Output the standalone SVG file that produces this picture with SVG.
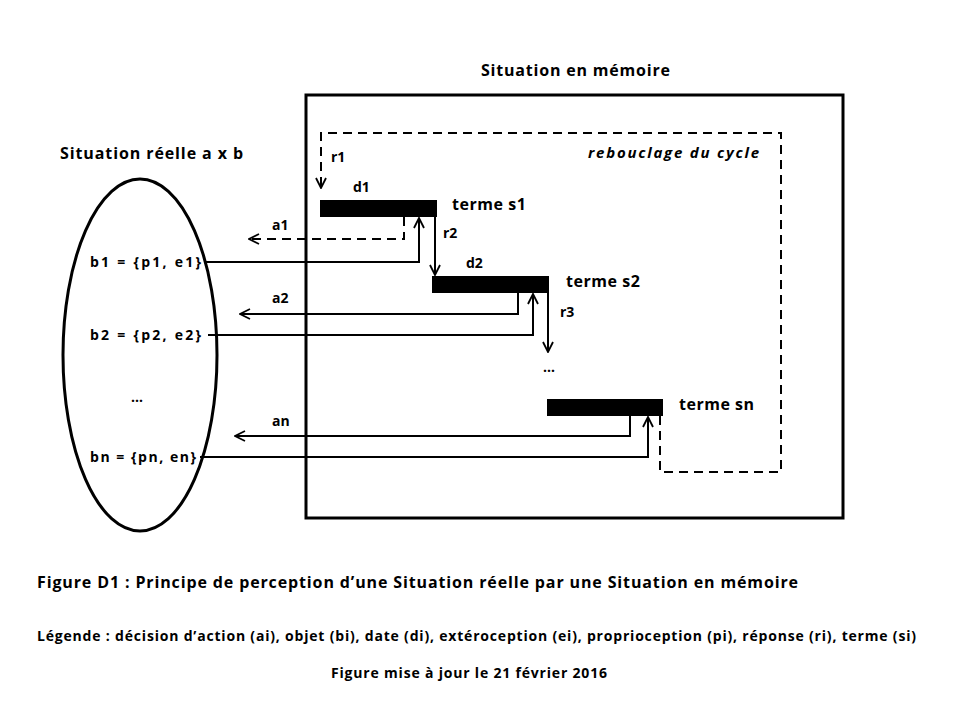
<svg xmlns="http://www.w3.org/2000/svg" width="960" height="720" viewBox="0 0 960 720">
<style>
text{font-family:"Open Sans","Liberation Sans",sans-serif;font-weight:bold;fill:#000}
.s{font-size:14px}.m{font-size:15px}.l{font-size:16px}
.ln{fill:none;stroke:#000;stroke-width:2}
.d{stroke-dasharray:9 6}
.bar{fill:#000}
</style>
<defs><marker id="a" viewBox="0 0 12 12" refX="11" refY="6" markerWidth="12" markerHeight="12" markerUnits="userSpaceOnUse" orient="auto"><path d="M1,1 L11,6 L1,11" fill="none" stroke="#000" stroke-width="1.8"/></marker></defs>
<rect width="960" height="720" fill="#fff"/>
<g id="frame"><rect x="306" y="95" width="537" height="423" fill="none" stroke="#000" stroke-width="3"/><text x="481" y="76" class="l" textLength="189" lengthAdjust="spacing">Situation en mémoire</text></g>
<g id="reel"><ellipse cx="140" cy="355" rx="77" ry="176" fill="none" stroke="#000" stroke-width="3"/><text x="60" y="159" class="l" textLength="183" lengthAdjust="spacing">Situation réelle  a x b</text>
<text x="90" y="267" class="s" textLength="111" lengthAdjust="spacing">b1 = {p1, e1}</text><text x="90" y="340" class="s" textLength="111" lengthAdjust="spacing">b2 = {p2, e2}</text><text x="137" y="402" class="s" text-anchor="middle">…</text><text x="90" y="462" class="s" textLength="106" lengthAdjust="spacing">bn = {pn, en}</text></g>
<g id="s1"><rect class="bar" x="320" y="200" width="117" height="17"/><text x="353" y="192" class="s">d1</text><text x="452" y="210" class="l" textLength="74" lengthAdjust="spacing">terme s1</text></g>
<g id="s2"><rect class="bar" x="432" y="276" width="117" height="17"/><text x="466" y="268" class="s">d2</text><text x="566" y="287" class="l" textLength="74" lengthAdjust="spacing">terme s2</text></g>
<g id="sn"><rect class="bar" x="547" y="399" width="116" height="17"/><text x="679" y="410" class="l" textLength="75" lengthAdjust="spacing">terme sn</text><text x="549" y="372" class="s" text-anchor="middle">…</text></g>
<g id="connectors">
<path class="ln d" d="M660,416 V472 H781 V133 H321 V188" marker-end="url(#a)"/>
<text x="588" y="158" class="m" font-style="italic" textLength="171" lengthAdjust="spacing">rebouclage du cycle</text>
<text x="331" y="162" class="s">r1</text>
<path class="ln d" d="M404,217 V239 H249" marker-end="url(#a)"/><text x="272" y="230" class="s">a1</text>
<path class="ln" d="M205,262 H419 V218" marker-end="url(#a)"/>
<path class="ln" d="M435,217 V275" marker-end="url(#a)"/><text x="443" y="238" class="s">r2</text>
<path class="ln" d="M518,293 V314 H240" marker-end="url(#a)"/><text x="272" y="303" class="s">a2</text>
<path class="ln" d="M208,335 H533 V294" marker-end="url(#a)"/>
<path class="ln" d="M548,293 V352" marker-end="url(#a)"/><text x="560" y="317" class="s">r3</text>
<path class="ln" d="M630,416 V436 H235" marker-end="url(#a)"/><text x="272" y="426" class="s">an</text>
<path class="ln" d="M200,457 H648 V417" marker-end="url(#a)"/>
</g>
<g id="captions"><text x="37" y="588" class="l" textLength="761" lengthAdjust="spacing">Figure D1 : Principe de perception d’une Situation réelle par une Situation en mémoire</text>
<text x="37" y="641" class="s" textLength="879" lengthAdjust="spacing">Légende : décision d’action (ai), objet (bi), date (di), extéroception (ei), proprioception (pi), réponse (ri), terme (si)</text>
<text x="331" y="678" class="s" textLength="276" lengthAdjust="spacing">Figure mise à jour le 21 février 2016</text></g>
</svg>
